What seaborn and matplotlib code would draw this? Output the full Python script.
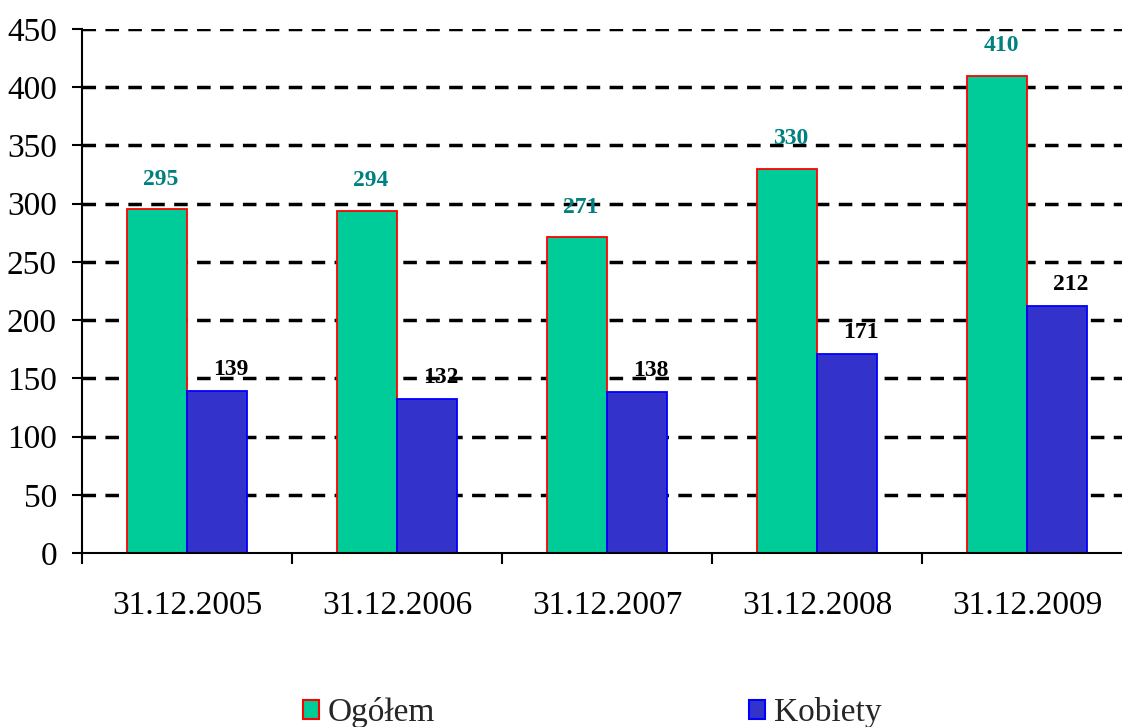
import pandas as pd
import matplotlib.pyplot as plt
import seaborn as sns
from matplotlib.patches import Patch
from matplotlib.ticker import FixedLocator

# dane
dates = ['31.12.2005', '31.12.2006', '31.12.2007', '31.12.2008', '31.12.2009']
ogolem = [295, 294, 271, 330, 410]
kobiety = [139, 132, 138, 171, 212]
series_names = ['Ogółem', 'Kobiety']

face_colors = ['#00CC99', '#3333CC']
edge_colors = ['#FF0000', '#0000FF']
label_colors = ['#008080', '#000000']

df = pd.DataFrame({
    'data': dates * 2,
    'wartosc': ogolem + kobiety,
    'seria': [series_names[0]] * len(dates) + [series_names[1]] * len(dates),
})

sns.set_style('white')
plt.rcParams['font.family'] = ['Liberation Serif', 'DejaVu Serif']

fig = plt.figure(figsize=(11.22, 7.27), dpi=100)
ax = fig.add_axes([82 / 1122, 1 - 553 / 727, 1050 / 1122, (553 - 29) / 727])

sns.barplot(data=df, x='data', y='wartosc', hue='seria', palette=face_colors,
            saturation=1, width=0.5714, gap=0, ax=ax, legend=False, zorder=3)

# obramowania słupków i etykiety
for i, cont in enumerate(ax.containers):
    for bar in cont:
        bar.set_edgecolor(edge_colors[i])
        bar.set_linewidth(1.3)
    dx = 3 if i == 0 else 10
    dy = 14 if i == 0 else 8
    for bar, val in zip(cont, cont.datavalues):
        ax.annotate(f'{val:.0f}', (bar.get_x() + bar.get_width() / 2, bar.get_height()),
                    xytext=(dx, dy), textcoords='offset points', ha='center', va='bottom',
                    fontsize=17, fontweight='bold', color=label_colors[i], zorder=4)

ax.set_ylim(0, 450)
ax.set_xlim(-0.5, len(dates) - 0.5)
ax.set_yticks(range(0, 451, 50))
ax.yaxis.grid(True, color='black', linewidth=2.5, linestyle=(0, (3.9, 2.7)), zorder=0)
ax.set_axisbelow(True)
ax.set_xlabel('')
ax.set_ylabel('')
# linia siatki przy zerze zasłania oś
ax.yaxis.get_gridlines()[0].set_visible(False)

for s in ['top', 'right']:
    ax.spines[s].set_visible(False)
for s in ['left', 'bottom']:
    ax.spines[s].set_color('black')
    ax.spines[s].set_linewidth(1.5)
    ax.spines[s].set_zorder(5)

ax.tick_params(axis='y', which='major', left=True, length=7, width=1.5, pad=11,
               labelsize=24, colors='black')
ax.tick_params(axis='x', which='major', bottom=True, length=0, pad=27,
               labelsize=24, colors='black')
ax.xaxis.set_minor_locator(FixedLocator([k - 0.5 for k in range(len(dates) + 1)]))
ax.tick_params(axis='x', which='minor', bottom=True, length=8, width=1.5, color='black')

handles = [Patch(facecolor=face_colors[i], edgecolor=edge_colors[i], linewidth=1.5,
                 label=series_names[i]) for i in range(2)]
fig.legend(handles=handles, loc='center', bbox_to_anchor=(592 / 1122, 1 - 713 / 727),
           ncol=2, frameon=False, fontsize=24, handlelength=0.5, handleheight=0.5,
           handletextpad=0.25, columnspacing=9.4)

fig.savefig('out.png', dpi=100)
